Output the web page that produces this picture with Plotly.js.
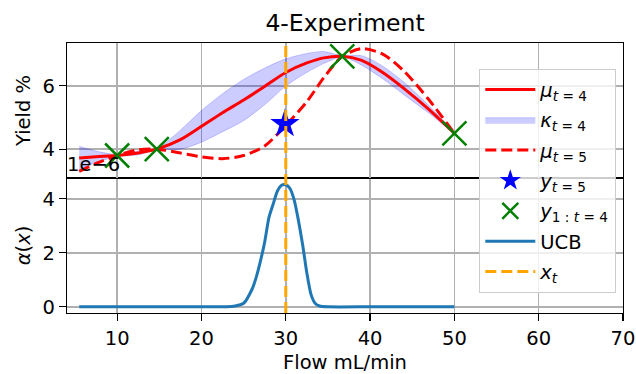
<!DOCTYPE html>
<html>
<head>
<meta charset="utf-8">
<script src="https://cdn.plot.ly/plotly-3.0.1.min.js"></script>
<style>html,body{margin:0;padding:0;background:#fff;}#chart{width:636px;height:374px;}</style>
</head>
<body>
<div id="chart"></div>
<script>
// ---- data ----
const xGrid   = [5.5, 7.5, 10, 12.5, 14.7, 17.5, 20, 22.5, 25, 27.5, 30, 32.5, 34.5, 36.7, 39, 41.5, 44, 47, 50];
const mu4     = [3.72, 3.76, 3.80, 3.88, 4.00, 4.30, 4.72, 5.15, 5.55, 5.98, 6.42, 6.72, 6.88, 6.93, 6.80, 6.42, 5.92, 5.25, 4.50];
const kapUp   = [4.09, 3.94, 3.83, 3.94, 4.02, 4.60, 5.22, 5.75, 6.20, 6.56, 6.85, 7.02, 7.08, 6.95, 6.95, 6.62, 6.12, 5.37, 4.52];
const kapLo   = [3.35, 3.58, 3.77, 3.82, 3.98, 4.00, 4.22, 4.55, 4.90, 5.40, 5.99, 6.42, 6.70, 6.91, 6.65, 6.22, 5.72, 5.13, 4.48];
const mu5     = [3.30, 3.55, 3.80, 3.98, 4.00, 3.88, 3.76, 3.70, 3.80, 4.10, 4.75, 5.50, 6.25, 6.93, 7.17, 7.00, 6.47, 5.55, 4.50];
const obsX    = [10, 14.7, 36.7, 50];
const obsY    = [3.80, 4.00, 6.93, 4.50];
const newX    = [29.9];
const newY    = [4.80];
const ucbX    = [5.5, 10, 15, 20, 23, 24, 25, 26, 26.5, 27, 27.5, 28, 28.5, 29, 29.5, 30, 30.5, 31, 31.5, 32, 32.5, 33, 33.5, 34, 35, 40, 45, 50];
const ucbY    = [0, 0, 0, 0, 0, 0.03, 0.13, 0.65, 1.1, 1.7, 2.4, 3.3, 3.8, 4.28, 4.5, 4.52, 4.38, 3.95, 3.2, 2.3, 1.25, 0.45, 0.12, 0.03, 0, 0, 0, 0]; // units of 1e-6
const xNext   = [30];
const xTicks  = [10, 20, 30, 40, 50, 60, 70];

const FONT = "DejaVu Sans, Verdana, sans-serif";
const FS = 19.5;

const traces = [
  {x: xGrid, y: kapLo, xaxis: 'x2', yaxis: 'y2', mode: 'lines', line: {color: 'rgba(0,0,255,0.18)', width: 1, shape: 'spline', smoothing: 0.8}, showlegend: false, legendgroup: 'g2', hoverinfo: 'skip'},
  {x: xGrid, y: kapUp, xaxis: 'x2', yaxis: 'y2', mode: 'lines', fill: 'tonexty', fillcolor: 'rgba(0,0,255,0.2)', line: {color: 'rgba(0,0,255,0.18)', width: 1, shape: 'spline', smoothing: 0.8}, name: '<i>κ</i><sub><i>t</i> = 4</sub>', legendrank: 2, legendgroup: 'g2'},
  {x: xGrid, y: mu4, xaxis: 'x2', yaxis: 'y2', mode: 'lines', line: {color: '#ff0000', width: 3, shape: 'spline', smoothing: 0.8}, name: '<i>μ</i><sub><i>t</i> = 4</sub>', legendrank: 1, legendgroup: 'g1'},
  {x: xGrid, y: mu5, xaxis: 'x2', yaxis: 'y2', mode: 'lines', line: {color: '#ff0000', width: 3, dash: '11px,5px', shape: 'spline', smoothing: 0.8}, name: '<i>μ</i><sub><i>t</i> = 5</sub>', legendrank: 3, legendgroup: 'g3'},
  {x: newX, y: newY, xaxis: 'x2', yaxis: 'y2', mode: 'markers', marker: {symbol: 'star', size: 22, color: '#0000ff'}, name: '<i>y</i><sub><i>t</i> = 5</sub>', legendrank: 4, legendgroup: 'g4'},
  {x: obsX, y: obsY, xaxis: 'x2', yaxis: 'y2', mode: 'markers', marker: {symbol: 'x-thin', size: 24, line: {color: '#008000', width: 2.5}, color: '#008000'}, name: '<i>y</i><sub>1 : <i>t</i> = 4</sub>', legendrank: 5, legendgroup: 'g5'},
  {x: ucbX, y: ucbY, xaxis: 'x', yaxis: 'y', mode: 'lines', line: {color: '#1f77b4', width: 3, shape: 'spline', smoothing: 0.6}, name: 'UCB', legendrank: 6, legendgroup: 'g6'},
  {x: xNext, y: [null], xaxis: 'x', yaxis: 'y', mode: 'lines', line: {color: '#ffa500', width: 3, dash: '11px,5px'}, name: '<i>x</i><sub><i>t</i></sub>', legendrank: 7, legendgroup: 'g7'}
];

const axCommon = {
  showline: true, mirror: true, linecolor: '#000', linewidth: 1.3,
  showgrid: true, gridcolor: '#b0b0b0', gridwidth: 1.5, zeroline: false,
  ticks: 'outside', ticklen: 7, tickwidth: 1.3, tickcolor: '#000',
  tickfont: {family: FONT, size: FS, color: '#000'}
};

const layout = {
  width: 636, height: 374,
  margin: {l: 67, r: 13, t: 43, b: 61},
  paper_bgcolor: '#fff', plot_bgcolor: '#fff',
  font: {family: FONT, size: FS, color: '#000'},
  title: {text: '4-Experiment', font: {family: FONT, size: 23.5, color: '#000'}, x: 0.5, xref: 'paper', xanchor: 'center', y: 0.94, yref: 'container', yanchor: 'middle'},
  xaxis: Object.assign({}, axCommon, {domain: [0, 1], anchor: 'y', range: [4.05, 70], tickvals: xTicks,
    title: {text: 'Flow mL/min', font: {family: FONT, size: FS, color: '#000'}, standoff: 6}}),
  yaxis: Object.assign({}, axCommon, {domain: [0, 0.5], anchor: 'x', range: [-0.23, 4.77], tickvals: [0, 2, 4],
    title: {text: '<i>α</i>(<i>x</i>)', font: {family: FONT, size: FS, color: '#000'}, standoff: 6}}),
  xaxis2: Object.assign({}, axCommon, {domain: [0, 1], anchor: 'y2', matches: 'x', range: [4.05, 70], tickvals: xTicks, showticklabels: false, ticks: ''}),
  yaxis2: Object.assign({}, axCommon, {domain: [0.5, 1], anchor: 'x2', range: [3.09, 7.35], tickvals: [4, 6],
    title: {text: 'Yield %', font: {family: FONT, size: FS, color: '#000'}, standoff: 6}}),
  legend: {x: 0.741, y: 0.904, xanchor: 'left', yanchor: 'top', bgcolor: 'rgba(255,255,255,0.8)', bordercolor: '#cccccc', borderwidth: 1.3,
    traceorder: 'grouped', tracegroupgap: 2, itemwidth: 50,
    font: {family: FONT, size: FS, color: '#000'}},
  shapes: [
    {type: 'line', xref: 'x', yref: 'paper', x0: xNext[0], x1: xNext[0], y0: 0, y1: 1, layer: 'above', line: {color: '#ffa500', width: 3, dash: '11px,5px'}}
  ],
  annotations: [
    {text: '1e−6', xref: 'paper', yref: 'paper', x: 0, y: 0.5, xanchor: 'left', yanchor: 'bottom', showarrow: false, xshift: -2, font: {family: FONT, size: FS, color: '#000'}}
  ]
};

Plotly.newPlot('chart', traces, layout, {displayModeBar: false, staticPlot: true});
</script>
</body>
</html>
